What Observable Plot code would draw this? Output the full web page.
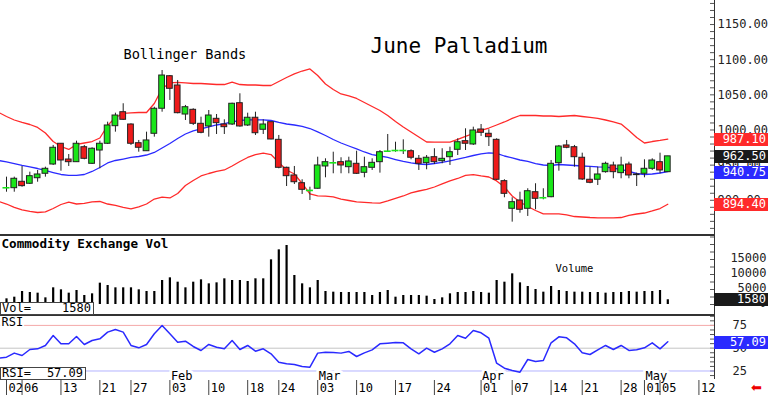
<!DOCTYPE html>
<html>
<head>
<meta charset="utf-8">
<script src="https://cdn.jsdelivr.net/npm/d3@7"></script>
<script src="https://cdn.jsdelivr.net/npm/@observablehq/plot@0.6"></script>
<style>
  html, body { margin: 0; padding: 0; background: #fff; }
  #wrap { position: relative; width: 768px; height: 395px; overflow: hidden; background: #fff;
          font-family: 'DejaVu Sans Mono', monospace; }
  .panel { position: absolute; left: 0; }
  .sep { position: absolute; left: 0; width: 715px; height: 1.6px; background: #333; }
  .vbox { position: absolute; left: 714px; width: 54px; height: 13px; line-height: 13px; color: #fff;
          font-size: 12px; text-align: right; padding-right: 2px; box-sizing: border-box; }
  .lbox { position: absolute; left: 0; background: #fff; border: 1px solid #444; box-sizing: border-box;
          font-size: 12px; line-height: 11px; color: #000; }
  .lbox span { position: absolute; top: 0; }
</style>
</head>
<body>
<div id="wrap"></div>
<script>
// ---------------- data (trading-day index 0 = 02 Jan) ----------------
const open  = [917.8,917.2,926.3,923.5,931.4,937.7,950.9,980.4,958.0,954.2,975.5,951.9,970.8,980.4,1005.4,1025.3,1007.8,981.2,969.8,994.6,1030.2,1076.5,1063.3,1022.0,1028.7,1008.8,1005.0,1015.9,1007.8,1007.8,1038.1,1006.4,1017.4,1000.3,1011.1,986.0,946.2,935.3,924.3,914.0,916.4,948.1,953.3,954.2,947.1,951.9,939.1,946.2,954.2,969.8,970.8,970.8,969.8,959.0,952.8,961.3,955.6,961.3,971.8,984.1,979.4,1000.7,994.6,986.0,927.2,887.9,899.7,887.9,911.5,903.6,904.4,952.8,978.0,975.5,960.5,929.2,929.2,940.0,949.5,938.6,950.9,935.8,937.7,944.8,954.2,940.0];
const high  = [932.9,932.9,948.1,940.0,942.4,947.1,978.0,980.4,965.1,984.1,978.0,974.7,984.1,1011.1,1023.9,1037.3,1008.8,985.1,996.9,1032.4,1084.6,1077.5,1070.4,1034.9,1030.2,1018.2,1027.7,1022.0,1014.5,1038.1,1051.5,1023.9,1025.3,1014.5,1011.1,992.2,947.1,948.1,929.2,918.6,961.3,959.0,968.4,960.5,961.3,969.8,961.3,959.0,970.8,993.6,982.6,986.0,971.8,963.7,963.7,973.3,973.3,975.5,987.5,1001.7,1004.0,1007.8,1000.3,987.5,929.2,903.6,911.5,916.4,923.5,916.4,956.6,978.0,985.1,978.0,967.0,947.1,947.1,954.2,954.2,961.3,954.2,938.6,957.6,959.0,967.0,962.5];
const low   = [911.5,911.5,918.6,922.5,925.7,932.9,949.5,941.4,948.1,954.2,957.6,950.9,944.8,979.4,996.9,1013.5,978.0,968.4,969.8,989.8,1025.3,1042.0,1023.0,1013.5,1006.4,994.6,989.8,993.6,993.6,1006.4,1004.0,1005.0,992.2,993.6,986.0,944.8,919.6,922.5,908.3,899.7,915.8,932.0,937.7,937.7,937.7,936.7,932.0,942.4,938.6,968.4,968.4,965.1,957.6,942.4,943.4,950.9,951.9,949.5,963.7,970.8,978.0,990.8,976.5,928.2,903.6,868.9,881.6,877.0,886.5,900.7,903.6,941.4,973.3,947.1,928.2,923.5,921.0,938.6,930.6,930.6,930.6,919.6,932.0,942.4,937.7,940.0];
const close = [917.8,930.6,920.1,934.3,936.7,944.8,974.7,956.6,954.2,980.4,959.0,973.3,980.4,1006.4,1020.6,1014.5,980.4,974.7,985.1,1030.2,1077.5,1058.6,1023.9,1032.4,1008.8,996.0,1020.6,1009.7,1004.0,1037.3,1005.0,1017.4,995.4,1007.8,986.5,946.2,934.3,925.7,914.9,914.0,949.5,954.2,953.3,949.5,955.2,937.7,947.1,953.3,968.4,969.8,970.8,970.8,960.5,951.9,960.5,954.2,959.0,968.4,982.6,980.4,999.3,996.0,989.8,929.2,909.2,897.3,886.5,912.9,902.1,903.6,951.9,976.5,974.7,961.3,929.6,924.9,936.7,951.9,940.0,949.5,935.3,936.7,944.8,956.6,942.4,962.5];
const volume = [1890,2440,4330,4000,3780,2220,5560,4890,3780,4670,3000,3560,7110,6330,5560,5560,5560,4890,4330,4330,8000,8890,7440,5560,7440,8220,6890,7220,8560,8000,8000,7670,8560,8560,14890,18220,19670,9670,6890,5560,8000,4330,4110,4000,4000,4000,4000,3000,4000,4670,2440,3000,3000,3000,2780,1670,2220,3560,4000,4000,4330,4000,3780,8000,7440,10220,7220,6000,5000,4110,6000,4670,4330,4110,4110,4000,4000,3780,4000,4000,4330,4110,4330,4330,4670,1580];

// Bollinger bands and RSI start one day earlier (index -1 = 31 Dec)
const seriesStart = -1;
const bandUpper = [1024.9,1019.2,1014.2,1010.7,1007.8,1003.6,995.7,983.6,976.5,972.3,979.4,981.5,983.6,988.6,1006.4,1017.8,1023.5,1024.2,1024.9,1024.9,1037.7,1059.0,1066.9,1067.6,1066.9,1066.1,1066.1,1065.4,1064.7,1064.7,1068.0,1064.7,1064.0,1064.0,1063.3,1063.3,1069.0,1074.7,1079.7,1083.9,1086.8,1077.5,1065.4,1057.6,1051.2,1048.4,1044.8,1039.1,1033.4,1027.7,1020.6,1012.1,1004.3,997.2,990.0,982.9,982.6,982.6,982.6,986.5,990.8,995.0,999.3,1002.8,1007.1,1011.4,1016.4,1020.6,1020.6,1020.6,1019.9,1019.9,1019.2,1019.9,1020.6,1019.2,1017.8,1016.4,1014.2,1011.4,1008.5,999.3,989.3,981.5,983.6,985.1,987.1];
const bandMiddle = [956.6,954.5,952.3,949.5,947.4,945.2,942.4,939.5,936.7,935.3,935.3,936.7,941.0,946.7,953.1,956.6,958.7,960.9,962.3,964.4,968.0,974.4,980.8,987.9,994.3,998.6,1001.7,1004.3,1007.1,1009.2,1011.4,1013.5,1014.5,1014.5,1014.5,1013.5,1010.7,1008.5,1007.1,1005.0,1002.1,997.2,992.2,986.5,981.5,977.2,973.0,968.7,965.1,963.0,960.9,958.0,955.2,953.1,951.6,950.9,952.3,953.8,955.9,958.7,960.9,963.7,965.9,967.3,966.6,963.0,960.2,957.3,955.2,952.3,950.2,949.5,950.9,950.2,949.5,948.8,948.1,947.4,947.1,945.9,943.8,941.0,938.1,936.7,937.4,938.8,940.75];
const bandLower = [898.3,894.7,889.8,886.2,884.1,882.6,883.4,888.3,894.0,897.3,894.7,895.5,897.6,898.3,894.7,892.6,889.8,887.9,890.5,894.7,901.8,904.6,903.3,909.7,921.1,928.2,934.6,938.1,941.0,943.1,948.8,955.2,960.9,965.1,967.0,965.1,953.8,943.1,937.4,923.9,909.0,906.4,905.8,904.7,901.8,899.7,897.6,896.9,896.2,895.9,899.0,902.6,906.1,910.4,913.2,915.4,918.9,923.2,927.5,931.0,935.3,936.4,934.6,933.1,927.5,918.9,906.1,897.6,891.2,885.5,880.8,880.8,880.8,879.1,876.9,876.2,875.5,875.1,875.1,875.1,875.5,878.4,880.5,881.9,884.8,888.3,894.4];
const rsi = [39.1,40.2,44.6,42.0,48.6,49.3,53.0,63.9,54.8,54.8,62.8,54.1,58.4,60.3,67.6,70.5,67.6,53.0,50.4,54.1,65.8,74.9,65.8,56.6,57.7,51.9,47.5,54.1,51.1,49.3,58.4,48.6,53.0,46.7,49.3,43.8,34.7,32.9,32.1,29.9,29.2,44.6,45.6,45.3,44.6,46.4,40.9,44.9,48.2,54.8,55.5,56.3,55.9,49.3,43.8,50.0,45.6,49.3,54.8,63.9,61.0,69.4,66.9,61.0,33.6,28.1,25.5,23.7,37.6,35.4,36.5,55.9,62.5,61.4,54.8,44.9,43.1,48.2,53.0,48.6,53.0,47.5,48.2,50.4,55.9,49.3,57.09];

// x-axis tick labels
const tickIndex  = [0,2,7,12,16,21,26,31,35,40,45,50,55,61,65,70,74,79,82,84,89];
const tickLabels = ["02","06","13","21","27","03","10","18","24","03","10","17","24","01","07","14","21","28","01","05","12"];
const monthIndex  = [21,40,61,82];
const monthLabels = ["Feb","Mar","Apr","May"];

const priceTicks = [900,950,1000,1050,1100,1150];
const volTicks = [0,5000,10000,15000];
const rsiTicks = [25,50,75];

const title = "June Palladium";
const bandsLabel = "Bollinger Bands";
const volTitle = "Commodity Exchange Vol";
const volLabel = "Volume";
const lastVals = {upper: 987.10, close: 962.50, middle: 940.75, lower: 894.40, vol: 1580, rsi: 57.09};

// ---------------- build ----------------
const FONT = "'DejaVu Sans Mono', monospace";
const GREEN = "#19e619", RED = "#ee1a1a", BRED = "#ff2a2a", BBLUE = "#2a2aff";
const candles = open.map((o, i) => ({i, o, h: high[i], l: low[i], c: close[i], v: volume[i]}));
const bands = bandUpper.map((u, k) => ({i: k + seriesStart, u, m: bandMiddle[k], l: bandLower[k], r: rsi[k]}));
const ups = candles.filter(d => d.c > d.o), downs = candles.filter(d => d.c < d.o), dojis = candles.filter(d => d.c === d.o);
const ticks = tickIndex.map((i, k) => ({i, t: tickLabels[k]}));
const months = monthIndex.map((i, k) => ({i, t: monthLabels[k]}));

const X = {domain: [0, 85], range: [6, 667.3], axis: null, label: null};
const common = {width: 768, marginLeft: 0, marginRight: 54, marginTop: 0,
  style: {fontFamily: FONT, fontSize: "12px", background: "transparent", overflow: "visible", color: "#222"}};

const main = Plot.plot({
  ...common, height: 235, marginBottom: 0,
  x: X,
  y: {domain: [849.9, 1184.2], range: [235, 0], label: null},
  marks: [
    Plot.tickY(d3.range(860, 1181, 10), {y: d => d, insetLeft: 710, stroke: "#555"}),
    Plot.axisY({anchor: "right", label: null, ticks: priceTicks, tickFormat: d => d.toFixed(2), tickSize: 0, tickPadding: 3, fontSize: 12, fill: "#222"}),
    Plot.line(bands, {x: "i", y: "u", stroke: BRED, strokeWidth: 1.3}),
    Plot.line(bands, {x: "i", y: "l", stroke: BRED, strokeWidth: 1.3}),
    Plot.line(bands, {x: "i", y: "m", stroke: BBLUE, strokeWidth: 1.3}),
    Plot.ruleX(candles, {x: "i", y1: "l", y2: "h", stroke: "#222", strokeWidth: 1}),
    Plot.rect(ups, {x1: d => d.i - 0.37, x2: d => d.i + 0.37, y1: "o", y2: "c", fill: GREEN, stroke: "#222", strokeWidth: 1}),
    Plot.rect(downs, {x1: d => d.i - 0.37, x2: d => d.i + 0.37, y1: "o", y2: "c", fill: RED, stroke: "#222", strokeWidth: 1}),
    Plot.ruleY(dojis, {y: "c", x1: d => d.i - 0.45, x2: d => d.i + 0.45, stroke: GREEN, strokeWidth: 1.6}),
    Plot.text([bandsLabel], {text: d => d, frameAnchor: "top-left", dx: 123, dy: 54, textAnchor: "start", lineAnchor: "middle", fontSize: 13.6, fill: "#000"}),
    Plot.text([title], {text: d => d, frameAnchor: "top-left", dx: 370, dy: 46, textAnchor: "start", lineAnchor: "middle", fontSize: 21, fill: "#000"})
  ]
});

const vol = Plot.plot({
  ...common, height: 80, marginBottom: 0,
  x: X,
  y: {domain: [0, 23000], range: [69, 0], label: null},
  marks: [
    Plot.tickY(d3.range(0, 23000, 2500), {y: d => d, insetLeft: 710, stroke: "#555"}),
    Plot.axisY({anchor: "right", label: null, ticks: volTicks, tickFormat: d => String(d), tickSize: 0, tickPadding: 52, textAnchor: "end", fontSize: 12, fill: "#222", dy: -1}),
    Plot.ruleX(candles, {x: "i", y1: 0, y2: "v", stroke: "#000", strokeWidth: 2.2}),
    Plot.text([volTitle], {text: d => d, frameAnchor: "top-left", dx: 1, dy: 8, textAnchor: "start", lineAnchor: "middle", fontSize: 12.6, fontWeight: "bold", fill: "#000"}),
    Plot.text([volLabel], {text: d => d, frameAnchor: "top-left", dx: 555, dy: 33, textAnchor: "start", lineAnchor: "middle", fontSize: 10.5, fill: "#000"})
  ]
});

const rsiPlot = Plot.plot({
  ...common, height: 80, marginBottom: 15,
  x: X,
  y: {domain: [14.58, 85.86], range: [65, 0], label: null},
  marks: [
    Plot.tickY(d3.range(20, 86, 5), {y: d => d, insetLeft: 710, stroke: "#555"}),
    Plot.axisY({anchor: "right", label: null, ticks: rsiTicks, tickFormat: d => String(d), tickSize: 0, tickPadding: 18, textAnchor: "start", fontSize: 12, fill: "#222"}),
    Plot.ruleY([75], {stroke: "#f4a8a8"}),
    Plot.ruleY([50], {stroke: "#c4c4c4"}),
    Plot.ruleY([25], {stroke: "#b4b4ff"}),
    Plot.line(bands, {x: "i", y: "r", stroke: BBLUE, strokeWidth: 1.5}),
    Plot.text(["RSI"], {text: d => d, frameAnchor: "top-left", dx: 1, dy: 7, textAnchor: "start", lineAnchor: "middle", fontSize: 12, fill: "#000", stroke: "#fff", strokeWidth: 4, paintOrder: "stroke"}),
    Plot.text(months, {x: "i", text: "t", frameAnchor: "bottom", dy: -4.5, dx: 1, textAnchor: "start", lineAnchor: "middle", fontSize: 12, fill: "#000", stroke: "#fff", strokeWidth: 6, paintOrder: "stroke"}),
    Plot.axisX({ticks: tickIndex, label: null, tickSize: 15, tickFormat: () => "", stroke: "#444"}),
    Plot.text(ticks, {x: "i", text: "t", frameAnchor: "bottom", dy: 7.5, dx: 2, textAnchor: "start", lineAnchor: "middle", fontSize: 12, fill: "#000"})
  ]
});

const wrap = document.getElementById("wrap");
function place(node, top) { const d = document.createElement("div"); d.className = "panel"; d.style.top = top + "px"; d.appendChild(node); wrap.appendChild(d); }
place(main, 0); place(vol, 235); place(rsiPlot, 315);

function div(cls, css, html) { const d = document.createElement("div"); d.className = cls; Object.assign(d.style, css); if (html != null) d.innerHTML = html; wrap.appendChild(d); return d; }
div("sep", {top: "234px"}); div("sep", {top: "314px"});
div("", {position: "absolute", left: "713.5px", top: "0px", width: "1px", height: "379px", background: "#333"});

const yM = main.scale("y"), yV = vol.scale("y"), yR = rsiPlot.scale("y");
function vbox(y, text, bg) { div("vbox", {top: (y - 5.5) + "px", background: bg}, text); }
vbox(yM.apply(lastVals.upper), lastVals.upper.toFixed(2), BRED);
vbox(yM.apply(lastVals.close), lastVals.close.toFixed(2), "#1a1a1a");
vbox(yM.apply(lastVals.middle), lastVals.middle.toFixed(2), BBLUE);
vbox(yM.apply(lastVals.lower), lastVals.lower.toFixed(2), BRED);
vbox(235 + yV.apply(lastVals.vol) - 0.5, String(lastVals.vol), "#1a1a1a");
vbox(315 + yR.apply(lastVals.rsi), lastVals.rsi.toFixed(2), BBLUE);

div("lbox", {top: "302px", width: "94px", height: "13px"}, `<span style="left:1px">Vol=</span><span style="right:2px">${lastVals.vol}</span>`);
div("lbox", {top: "367px", width: "86px", height: "13px"}, `<span style="left:1px">RSI=</span><span style="right:2px">${lastVals.rsi.toFixed(2)}</span>`);
div("", {position: "absolute", left: "751px", top: "380px", color: "#e00", fontSize: "13px", fontFamily: "'DejaVu Sans', sans-serif"}, "⬅");
</script>
</body>
</html>
